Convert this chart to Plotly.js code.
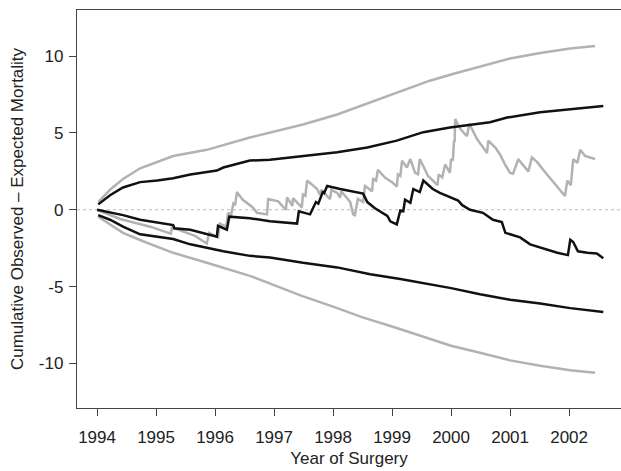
<!DOCTYPE html>
<html>
<head>
<meta charset="utf-8">
<script src="https://cdn.plot.ly/plotly-3.0.1.min.js"></script>
<style>html,body{margin:0;padding:0;background:#fff;overflow:hidden}#chart{width:621px;height:471px}</style>
</head>
<body>
<div id="chart"></div>
<script>
// Grey CUSUM (observed - expected)
const greyYears = [1994.00,1994.39,1994.90,1995.25,1995.27,1995.66,1995.86,1995.90,1996.05,1996.08,1996.19,1996.22,1996.27,1996.31,1996.34,1996.37,1996.47,1996.64,1996.71,1996.88,1996.90,1997.07,1997.20,1997.22,1997.31,1997.32,1997.47,1997.49,1997.53,1997.56,1997.73,1997.78,1997.80,1997.95,1997.97,1998.07,1998.12,1998.14,1998.29,1998.34,1998.37,1998.42,1998.51,1998.54,1998.63,1998.66,1998.68,1998.73,1998.76,1998.88,1999.00,1999.08,1999.10,1999.14,1999.17,1999.25,1999.31,1999.39,1999.44,1999.47,1999.61,1999.69,1999.77,1999.79,1999.85,1999.90,1999.98,2000.00,2000.03,2000.05,2000.06,2000.07,2000.15,2000.24,2000.27,2000.31,2000.36,2000.44,2000.61,2000.63,2000.75,2000.83,2000.92,2001.00,2001.05,2001.14,2001.20,2001.31,2001.37,2001.46,2001.56,2001.73,2001.85,2001.93,2001.97,2002.03,2002.07,2002.14,2002.19,2002.27,2002.44];
const greyCusum = [0,-0.6,-1.1,-1.55,-1.15,-1.7,-2.2,-1.5,-1.8,-0.9,-1.1,-0.2,-0.35,0.4,0.3,1.15,0.65,0.15,-0.2,-0.3,0.7,0.55,0.0,0.8,0.25,0.75,0.15,1.0,0.9,1.9,1.35,0.95,1.3,0.7,1.3,1.1,0.8,1.2,0.5,-0.3,-0.35,0.7,0.5,1.55,1.3,1.2,2.0,1.9,2.6,2.1,1.8,1.5,2.3,2.2,3.2,2.75,3.3,2.4,2.3,3.3,2.2,1.9,1.6,2.3,2.1,2.95,2.4,3.3,3.2,4.5,4.4,5.9,5.3,4.9,4.8,5.6,5.2,4.6,3.7,4.5,4.05,3.6,2.9,2.4,2.35,3.3,3.0,2.5,3.4,3.1,2.6,1.8,1.2,0.9,1.9,1.6,3.3,3.05,3.9,3.5,3.3];

// Black CUSUM
const blackYears = [1994.00,1994.44,1994.73,1995.29,1995.31,1995.58,1996.03,1996.05,1996.20,1996.24,1996.59,1996.93,1997.39,1997.42,1997.61,1997.71,1997.75,1997.83,1997.85,1997.90,1998.12,1998.46,1998.51,1998.58,1998.71,1998.92,1998.97,1999.08,1999.14,1999.19,1999.22,1999.31,1999.36,1999.47,1999.53,1999.69,1999.81,2000.12,2000.19,2000.32,2000.54,2000.71,2000.86,2000.92,2001.17,2001.34,2001.51,2001.80,2001.98,2002.02,2002.07,2002.15,2002.31,2002.47,2002.58];
const blackCusum = [0,-0.35,-0.65,-1.0,-1.2,-1.3,-1.75,-1.05,-1.3,-0.45,-0.55,-0.75,-0.9,-0.1,-0.3,0.5,0.4,1.2,1.1,1.55,1.35,1.1,1.05,0.5,0.1,-0.4,-0.75,-0.95,-0.05,-0.1,0.65,0.45,1.35,1.15,1.9,1.35,1.1,0.6,0.3,0.0,-0.2,-0.65,-0.8,-1.5,-1.8,-2.25,-2.45,-2.8,-2.95,-1.95,-2.1,-2.7,-2.8,-2.85,-3.15];

// Grey control limits
const greyUpperYears = [1994.02,1994.22,1994.44,1994.73,1995.29,1995.86,1996.59,1997.00,1997.49,1998.07,1998.63,1999.14,1999.64,2000.00,2000.49,2001.00,2001.51,2002.02,2002.44];
const greyUpper = [0.5,1.3,2.0,2.7,3.5,3.9,4.7,5.1,5.55,6.2,7.0,7.7,8.4,8.8,9.3,9.85,10.2,10.5,10.65];
const greyLowerYears = [1994.02,1994.44,1994.78,1995.29,1995.86,1996.59,1997.00,1997.47,1998.00,1998.50,1999.00,1999.50,2000.00,2000.49,2001.00,2001.51,2002.02,2002.44];
const greyLower = [-0.45,-1.5,-2.05,-2.8,-3.45,-4.3,-4.9,-5.6,-6.3,-7.0,-7.6,-8.25,-8.85,-9.3,-9.8,-10.15,-10.45,-10.6];

// Black control limits
const blackUpperYears = [1994.02,1994.22,1994.44,1994.73,1995.02,1995.29,1995.58,1996.03,1996.14,1996.59,1996.93,1997.49,1998.07,1998.58,1999.08,1999.53,1999.98,2000.66,2000.95,2001.51,2002.07,2002.58];
const blackUpper = [0.35,0.95,1.45,1.8,1.9,2.05,2.3,2.55,2.75,3.2,3.25,3.5,3.75,4.05,4.5,5.05,5.35,5.7,6.0,6.35,6.55,6.75];
const blackLowerYears = [1994.02,1994.22,1994.44,1994.73,1995.29,1995.58,1996.14,1996.59,1996.93,1997.49,1998.07,1998.63,1999.14,1999.64,2000.00,2000.49,2001.00,2001.51,2002.02,2002.58];
const blackLower = [-0.35,-0.65,-1.1,-1.6,-1.9,-2.25,-2.7,-3.0,-3.1,-3.45,-3.75,-4.2,-4.5,-4.85,-5.1,-5.5,-5.85,-6.1,-6.4,-6.65];

const xTicks = [1994,1995,1996,1997,1998,1999,2000,2001,2002];
const yTicks = [-10,-5,0,5,10];

const GREY = '#b2b2b2', BLACK = '#111111';
const mk = (x, y, c) => ({x: x, y: y, type: 'scatter', mode: 'lines', line: {color: c, width: 2.5}, hoverinfo: 'skip', showlegend: false});

const traces = [
  mk(greyUpperYears, greyUpper, GREY),
  mk(greyLowerYears, greyLower, GREY),
  mk(greyYears, greyCusum, GREY),
  mk(blackUpperYears, blackUpper, BLACK),
  mk(blackLowerYears, blackLower, BLACK),
  mk(blackYears, blackCusum, BLACK)
];

const FAM = 'Liberation Sans, Arial, sans-serif';

const layout = {
  width: 621, height: 471,
  margin: {l: 77, r: 0, t: 10, b: 63},
  paper_bgcolor: '#fff', plot_bgcolor: '#fff',
  font: {family: FAM, color: '#222'},
  xaxis: {
    range: [1993.66, 2002.88],
    tickvals: xTicks, ticktext: xTicks.map(String),
    ticks: 'outside', ticklen: 7, tickwidth: 1, tickcolor: '#444',
    ticklabelstandoff: 6,
    showline: true, linecolor: '#444', linewidth: 1.2, mirror: true,
    showgrid: false, zeroline: false,
    tickfont: {size: 17, family: FAM, color: '#222'},
    title: {text: 'Year of Surgery', font: {size: 17, family: FAM, color: '#222'}, standoff: 6}
  },
  yaxis: {
    range: [-12.9, 13.0],
    tickvals: yTicks, ticktext: yTicks.map(String),
    ticks: 'outside', ticklen: 7, tickwidth: 1, tickcolor: '#444',
    ticklabelstandoff: 2,
    showline: true, linecolor: '#444', linewidth: 1.2,
    showgrid: false, zeroline: false,
    tickfont: {size: 17, family: FAM, color: '#222'},
    title: {text: 'Cumulative Observed \u2013 Expected Mortality', font: {size: 17, family: FAM, color: '#222'}, standoff: 10}
  },
  shapes: [{type: 'line', xref: 'paper', x0: 0, x1: 1, yref: 'y', y0: 0, y1: 0, layer: 'below', line: {color: '#bbbbbb', width: 1, dash: '3px,3px'}}]
};

Plotly.newPlot('chart', traces, layout, {staticPlot: true, displayModeBar: false});
</script>
</body>
</html>
